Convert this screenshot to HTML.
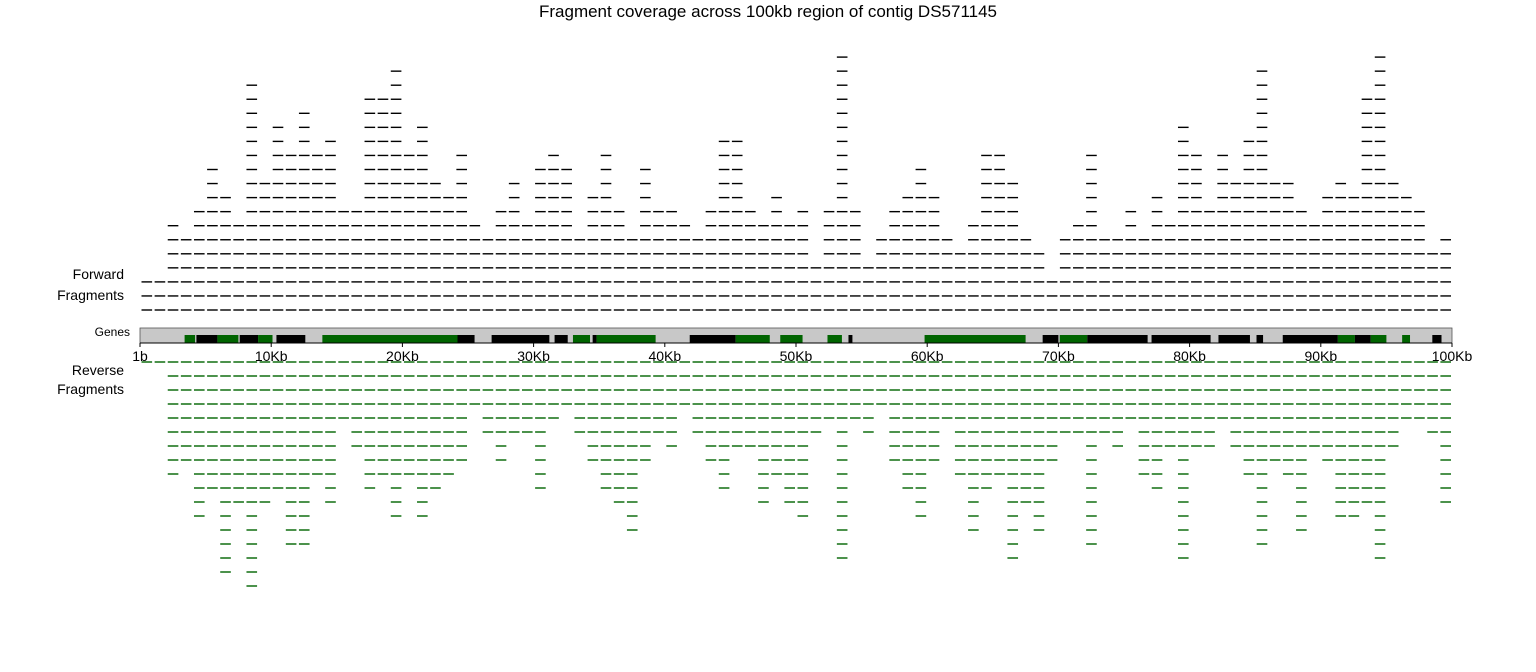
<!DOCTYPE html>
<html>
<head>
<meta charset="utf-8">
<style>
html,body{margin:0;padding:0;background:#fff;}
svg{display:block;font-family:"Liberation Sans",sans-serif;}
</style>
</head>
<body>
<svg id="chart" width="1536" height="672" viewBox="0 0 1536 672">
  <text x="768" y="17" text-anchor="middle" font-size="17" fill="#000">Fragment coverage across 100kb region of contig DS571145</text>
  <text x="124" y="279" text-anchor="end" font-size="14">Forward</text>
  <text x="124" y="300" text-anchor="end" font-size="14">Fragments</text>
  <text x="130" y="336" text-anchor="end" font-size="12">Genes</text>
  <text x="124" y="375" text-anchor="end" font-size="14">Reverse</text>
  <text x="124" y="394" text-anchor="end" font-size="14">Fragments</text>
  <rect x="140" y="328" width="1312" height="15" fill="#c8c8c8" stroke="#555" stroke-width="0.8"/>
  <g id="genes"></g>
  <g id="fwd"></g>
  <g id="rev"></g>
  <g id="axis"></g>
</svg>
<script>
const fwdDepth = [3,3,7,6,8,11,9,7,17,10,14,12,15,12,13,8,8,16,16,18,12,14,10,9,12,7,6,8,10,7,11,12,11,6,9,12,8,6,11,8,8,7,6,8,13,13,8,7,9,7,8,4,8,19,8,4,6,8,9,11,9,6,5,7,12,12,10,6,5,3,6,7,12,6,6,8,6,9,7,14,12,8,12,10,13,18,10,10,8,7,9,10,9,16,19,10,9,8,5,6];
const revDepth = [1,1,9,8,12,10,16,11,17,11,10,14,14,9,11,5,7,10,9,12,9,12,10,9,8,4,6,8,6,6,10,5,4,6,8,10,11,13,8,6,7,4,6,8,10,7,7,11,9,11,12,6,5,15,5,6,4,8,10,12,8,5,9,13,10,9,15,11,13,8,6,6,14,6,7,5,9,10,7,15,7,7,5,7,9,14,8,9,13,7,8,12,12,11,15,7,5,5,6,11];
const geneStart = [3.4,4.3,5.9,7.6,9.0,10.4,13.9,24.2,26.8,31.6,33.0,34.5,34.8,41.9,45.4,48.8,52.4,54.0,59.8,68.8,70.1,72.2,77.1,82.2,85.1,87.1,91.3,92.6,93.8,96.2,98.5];
const geneEnd   = [4.2,5.9,7.5,9.0,10.1,12.6,24.2,25.5,31.2,32.6,34.3,34.8,39.3,45.4,48.0,50.5,53.5,54.3,67.5,70.0,72.2,76.8,81.6,84.6,85.6,91.3,92.6,93.8,95.0,96.8,99.2];
const geneStrand = ["g","k","g","k","g","k","g","k","k","k","g","k","g","k","g","g","g","k","g","k","g","k","k","k","k","k","g","k","g","g","k"];
const tickKb = [0,10,20,30,40,50,60,70,80,90,100];
const tickLabels = ["1b","10Kb","20Kb","30Kb","40Kb","50Kb","60Kb","70Kb","80Kb","90Kb","100Kb"];

const NS="http://www.w3.org/2000/svg";
const x = kb => 140 + kb*13.12;
const fwdY = r => 310 - r*14.05;
const revY = r => 362 + r*14;

const fg=document.getElementById('fwd');
fwdDepth.forEach((d,k)=>{
  for(let r=0;r<d;r++){
    const l=document.createElementNS(NS,'line');
    l.setAttribute('x1',x(k)+1.5);l.setAttribute('x2',x(k+1)-1);
    l.setAttribute('y1',fwdY(r));l.setAttribute('y2',fwdY(r));
    l.setAttribute('stroke','#000');l.setAttribute('stroke-width','1.4');
    
    
    fg.appendChild(l);
  }
});
const rg=document.getElementById('rev');
revDepth.forEach((d,k)=>{
  for(let r=0;r<d;r++){
    const l=document.createElementNS(NS,'line');
    l.setAttribute('x1',x(k)+1.5);l.setAttribute('x2',x(k+1)-1);
    l.setAttribute('y1',revY(r));l.setAttribute('y2',revY(r));
    l.setAttribute('stroke','#006400');l.setAttribute('stroke-width','1.4');
    
    
    rg.appendChild(l);
  }
});
const gg=document.getElementById('genes');
geneStart.forEach((s,i)=>{
  const r=document.createElementNS(NS,'rect');
  r.setAttribute('x',x(s));r.setAttribute('width',Math.max(1,x(geneEnd[i])-x(s)));
  r.setAttribute('y',335);r.setAttribute('height',8);
  r.setAttribute('fill',geneStrand[i]==='g'?'#006400':'#000');
  
  
  gg.appendChild(r);
});
const ag=document.getElementById('axis');
const al=document.createElementNS(NS,'line');
al.setAttribute('x1',140);al.setAttribute('x2',1452);al.setAttribute('y1',343);al.setAttribute('y2',343);
al.setAttribute('stroke','#000');


ag.appendChild(al);
tickKb.forEach((t,i)=>{
  const tk=document.createElementNS(NS,'line');
  tk.setAttribute('x1',x(t));tk.setAttribute('x2',x(t));tk.setAttribute('y1',343);tk.setAttribute('y2',347);
  tk.setAttribute('stroke','#000');
  
  
  ag.appendChild(tk);
  const tx=document.createElementNS(NS,'text');
  tx.setAttribute('x',x(t));tx.setAttribute('y',361);tx.setAttribute('text-anchor','middle');
  tx.setAttribute('font-size','14');
  tx.textContent=tickLabels[i];
  
  
  ag.appendChild(tx);
});
</script>
</body>
</html>
